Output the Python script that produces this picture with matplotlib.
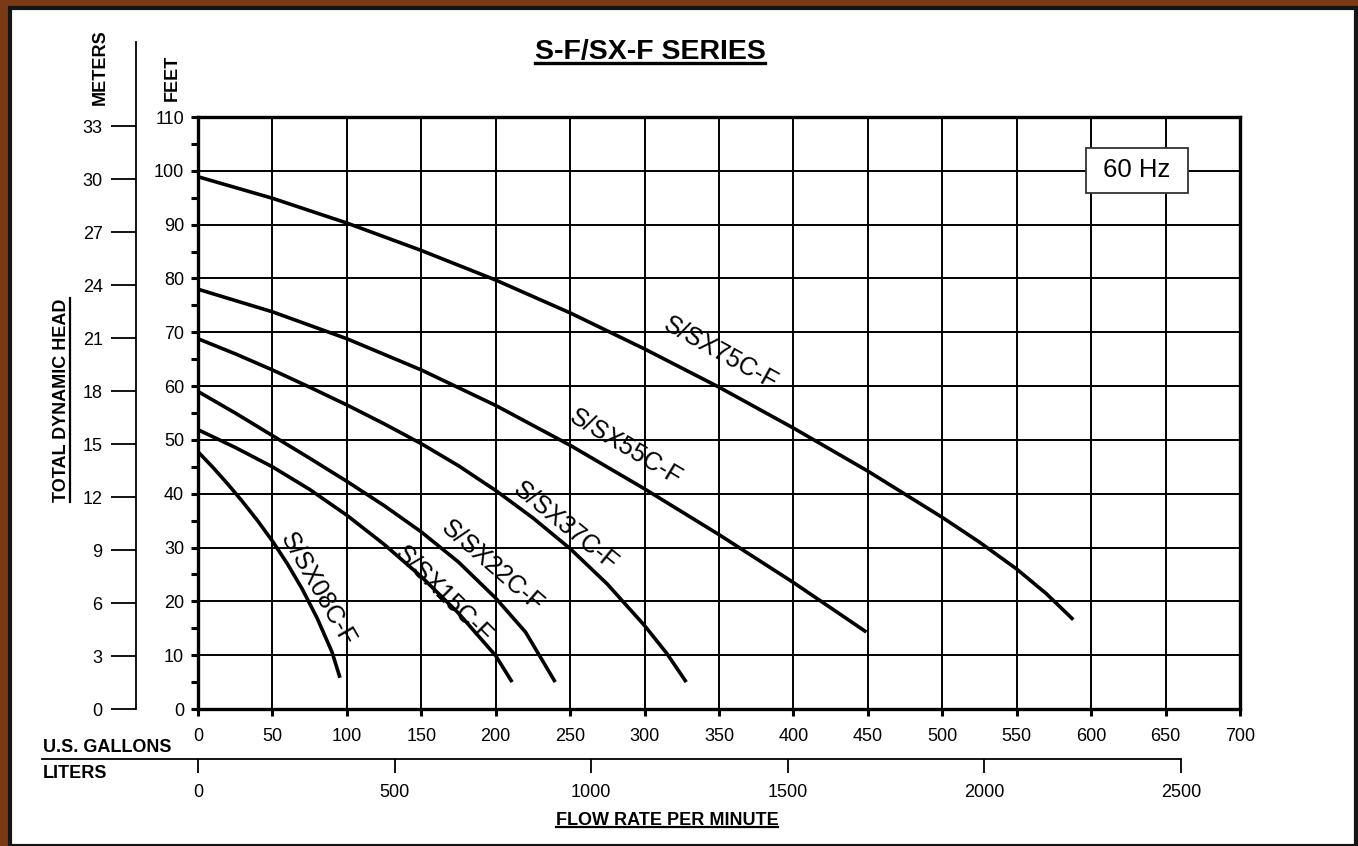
import numpy as np
import matplotlib.pyplot as plt
from matplotlib.lines import Line2D
from matplotlib.patches import Rectangle

plt.rcParams['font.family'] = ['Liberation Sans', 'DejaVu Sans']

# pump curves: flow (US gpm) vs total dynamic head (ft)
q08 = [0, 10, 20, 30, 40, 50, 60, 70, 80, 90, 95.4]
h08 = [47.8, 44.9, 41.8, 38.5, 35.0, 31.2, 27.0, 22.3, 16.9, 10.6, 5.8]
q15 = [0, 25, 50, 75, 100, 125, 150, 175, 200, 211]
h15 = [51.9, 48.6, 45.0, 40.8, 36.0, 30.6, 24.6, 17.8, 9.9, 5.0]
q22 = [0, 25, 50, 75, 100, 125, 150, 175, 200, 220, 240]
h22 = [59.0, 55.0, 50.8, 46.6, 42.3, 37.8, 32.9, 27.3, 20.6, 14.3, 5.0]
q37 = [0, 25, 50, 75, 100, 125, 150, 175, 200, 225, 250, 275, 300, 315, 328]
h37 = [68.8, 66.0, 63.0, 59.8, 56.5, 53.0, 49.3, 45.2, 40.6, 35.5, 29.8, 23.2, 15.5, 10.3, 5.0]
q55 = [0, 50, 100, 150, 200, 250, 300, 350, 400, 449]
h55 = [78.0, 73.8, 68.8, 63.0, 56.4, 49.0, 40.9, 32.4, 23.5, 14.3]
q75 = [0, 50, 100, 150, 200, 250, 300, 350, 400, 450, 500, 525, 550, 570, 588]
h75 = [98.9, 94.9, 90.3, 85.2, 79.7, 73.6, 66.9, 59.8, 52.2, 44.2, 35.6, 31.0, 26.0, 21.4, 16.6]

models = ["S/SX08C-F", "S/SX15C-F", "S/SX22C-F", "S/SX37C-F", "S/SX55C-F", "S/SX75C-F"]
flows = [q08, q15, q22, q37, q55, q75]
heads = [h08, h15, h22, h37, h55, h75]
# label anchor (gpm, ft) and angle
label_pos = [(80, 22.3), (165, 21.2), (197.5, 26.6), (247, 34.0), (287.5, 48.5), (350.7, 66.1)]
label_rot = [-60, -45, -41, -39, -31, -29]

gpm_ticks = list(range(0, 701, 50))
ft_ticks = list(range(0, 111, 10))
ft_minor = list(range(5, 110, 10))
m_ticks = list(range(0, 34, 3))
liter_ticks = list(range(0, 2501, 500))

L_PER_GAL = 3.78541
FT_PER_M = 3.28084

W, H = 1358, 846
X0, X1 = 198, 1240   # pixel columns of 0 and 700 gpm
Y0, Y1 = 709, 117    # pixel rows of 0 and 110 ft

fig = plt.figure(figsize=(W / 100, H / 100), dpi=100)
fig.patch.set_facecolor('#7a3a16')
fig.add_artist(Rectangle((10 / W, 0), (W - 12) / W, (H - 8) / H, transform=fig.transFigure,
                         facecolor='white', edgecolor='#151515', linewidth=3, zorder=-10))

ax = fig.add_axes([X0 / W, 1 - Y0 / H, (X1 - X0) / W, (Y0 - Y1) / H])
ax.set_xlim(0, 700)
ax.set_ylim(0, 110)
ax.patch.set_alpha(0)

for q, h in zip(flows, heads):
    ax.plot(q, h, color='black', lw=2.6, solid_capstyle='butt', solid_joinstyle='round', zorder=3)

for name, (x, y), rot in zip(models, label_pos, label_rot):
    ax.text(x, y, name, rotation=rot, rotation_mode='anchor', ha='center', va='center',
            fontsize=18, color='black', zorder=4)

ax.text(630.8, 100.1, " 60 Hz ", fontsize=18.5, ha='center', va='center', zorder=5,
        bbox=dict(boxstyle='square,pad=0.4', facecolor='white', edgecolor='#333333', linewidth=1.3))

ax.set_xticks(gpm_ticks)
ax.set_yticks(ft_ticks)
ax.set_yticks(ft_minor, minor=True)
ax.grid(True, which='major', color='black', lw=1.4)
ax.tick_params(axis='both', which='both', direction='out', length=5, width=2.2,
               labelsize=13, color='black')
ax.tick_params(axis='x', pad=9)
ax.tick_params(axis='y', pad=5)
for s in ax.spines.values():
    s.set_linewidth(2.4)

# meters axis
top_px = 42
ax_m = fig.add_axes([136 / W, 1 - Y0 / H, 0.0001, (Y0 - top_px) / H])
ax_m.set_ylim(0, 110 * (Y0 - top_px) / (Y0 - Y1) / FT_PER_M)
ax_m.set_yticks(m_ticks)
ax_m.set_xticks([])
for k in ['right', 'top', 'bottom']:
    ax_m.spines[k].set_visible(False)
ax_m.spines['left'].set_linewidth(1.3)
ax_m.patch.set_alpha(0)
ax_m.tick_params(axis='y', direction='out', length=18, width=1.3, labelsize=13, pad=6)

# liters axis
liters_y = 759
ax_l = fig.add_axes([42 / W, 1 - liters_y / H, (X1 - 42) / W, 0.0001])
lmin = -(X0 - 42) / (X1 - X0) * 700 * L_PER_GAL
ax_l.set_xlim(lmin, 700 * L_PER_GAL)
ax_l.set_xticks(liter_ticks)
ax_l.set_yticks([])
for k in ['left', 'right', 'top']:
    ax_l.spines[k].set_visible(False)
ax_l.spines['bottom'].set_bounds(lmin, 2500)
ax_l.spines['bottom'].set_linewidth(1.3)
ax_l.patch.set_alpha(0)
ax_l.tick_params(axis='x', direction='out', length=10, width=1.3, labelsize=13, pad=8)

# text labels
title = fig.text(650 / W, 1 - 52 / H, "S-F/SX-F SERIES", fontsize=20.5, fontweight='bold',
                 ha='center', va='center')
tdh = fig.text(62 / W, 1 - 400 / H, "TOTAL DYNAMIC HEAD", fontsize=13, fontweight='bold',
               rotation=90, ha='center', va='center')
flow = fig.text(667 / W, 1 - 820 / H, "FLOW RATE PER MINUTE", fontsize=13, fontweight='bold',
                ha='center', va='center')
fig.text(100 / W, 1 - 67 / H, "METERS", fontsize=13, fontweight='bold', rotation=90,
         ha='center', va='center')
fig.text(172 / W, 1 - 78 / H, "FEET", fontsize=13, fontweight='bold', rotation=90,
         ha='center', va='center')
fig.text(43 / W, 1 - 747 / H, "U.S. GALLONS", fontsize=13, fontweight='bold', ha='left', va='center')
fig.text(43 / W, 1 - 773 / H, "LITERS", fontsize=13, fontweight='bold', ha='left', va='center')

# underlines
fig.canvas.draw()
r = fig.canvas.get_renderer()
inv = fig.transFigure.inverted()
for t, lw in [(title, 2.4), (flow, 1.6)]:
    bb = t.get_window_extent(r).transformed(inv)
    fig.add_artist(Line2D([bb.x0, bb.x1], [bb.y0 + 0.002, bb.y0 + 0.002], color='black', lw=lw,
                          transform=fig.transFigure))
bb = tdh.get_window_extent(r).transformed(inv)
fig.add_artist(Line2D([bb.x1 - 0.0005, bb.x1 - 0.0005], [bb.y0, bb.y1], color='black', lw=1.6,
                      transform=fig.transFigure))

fig.savefig("out.png", dpi=100, facecolor=fig.get_facecolor())
